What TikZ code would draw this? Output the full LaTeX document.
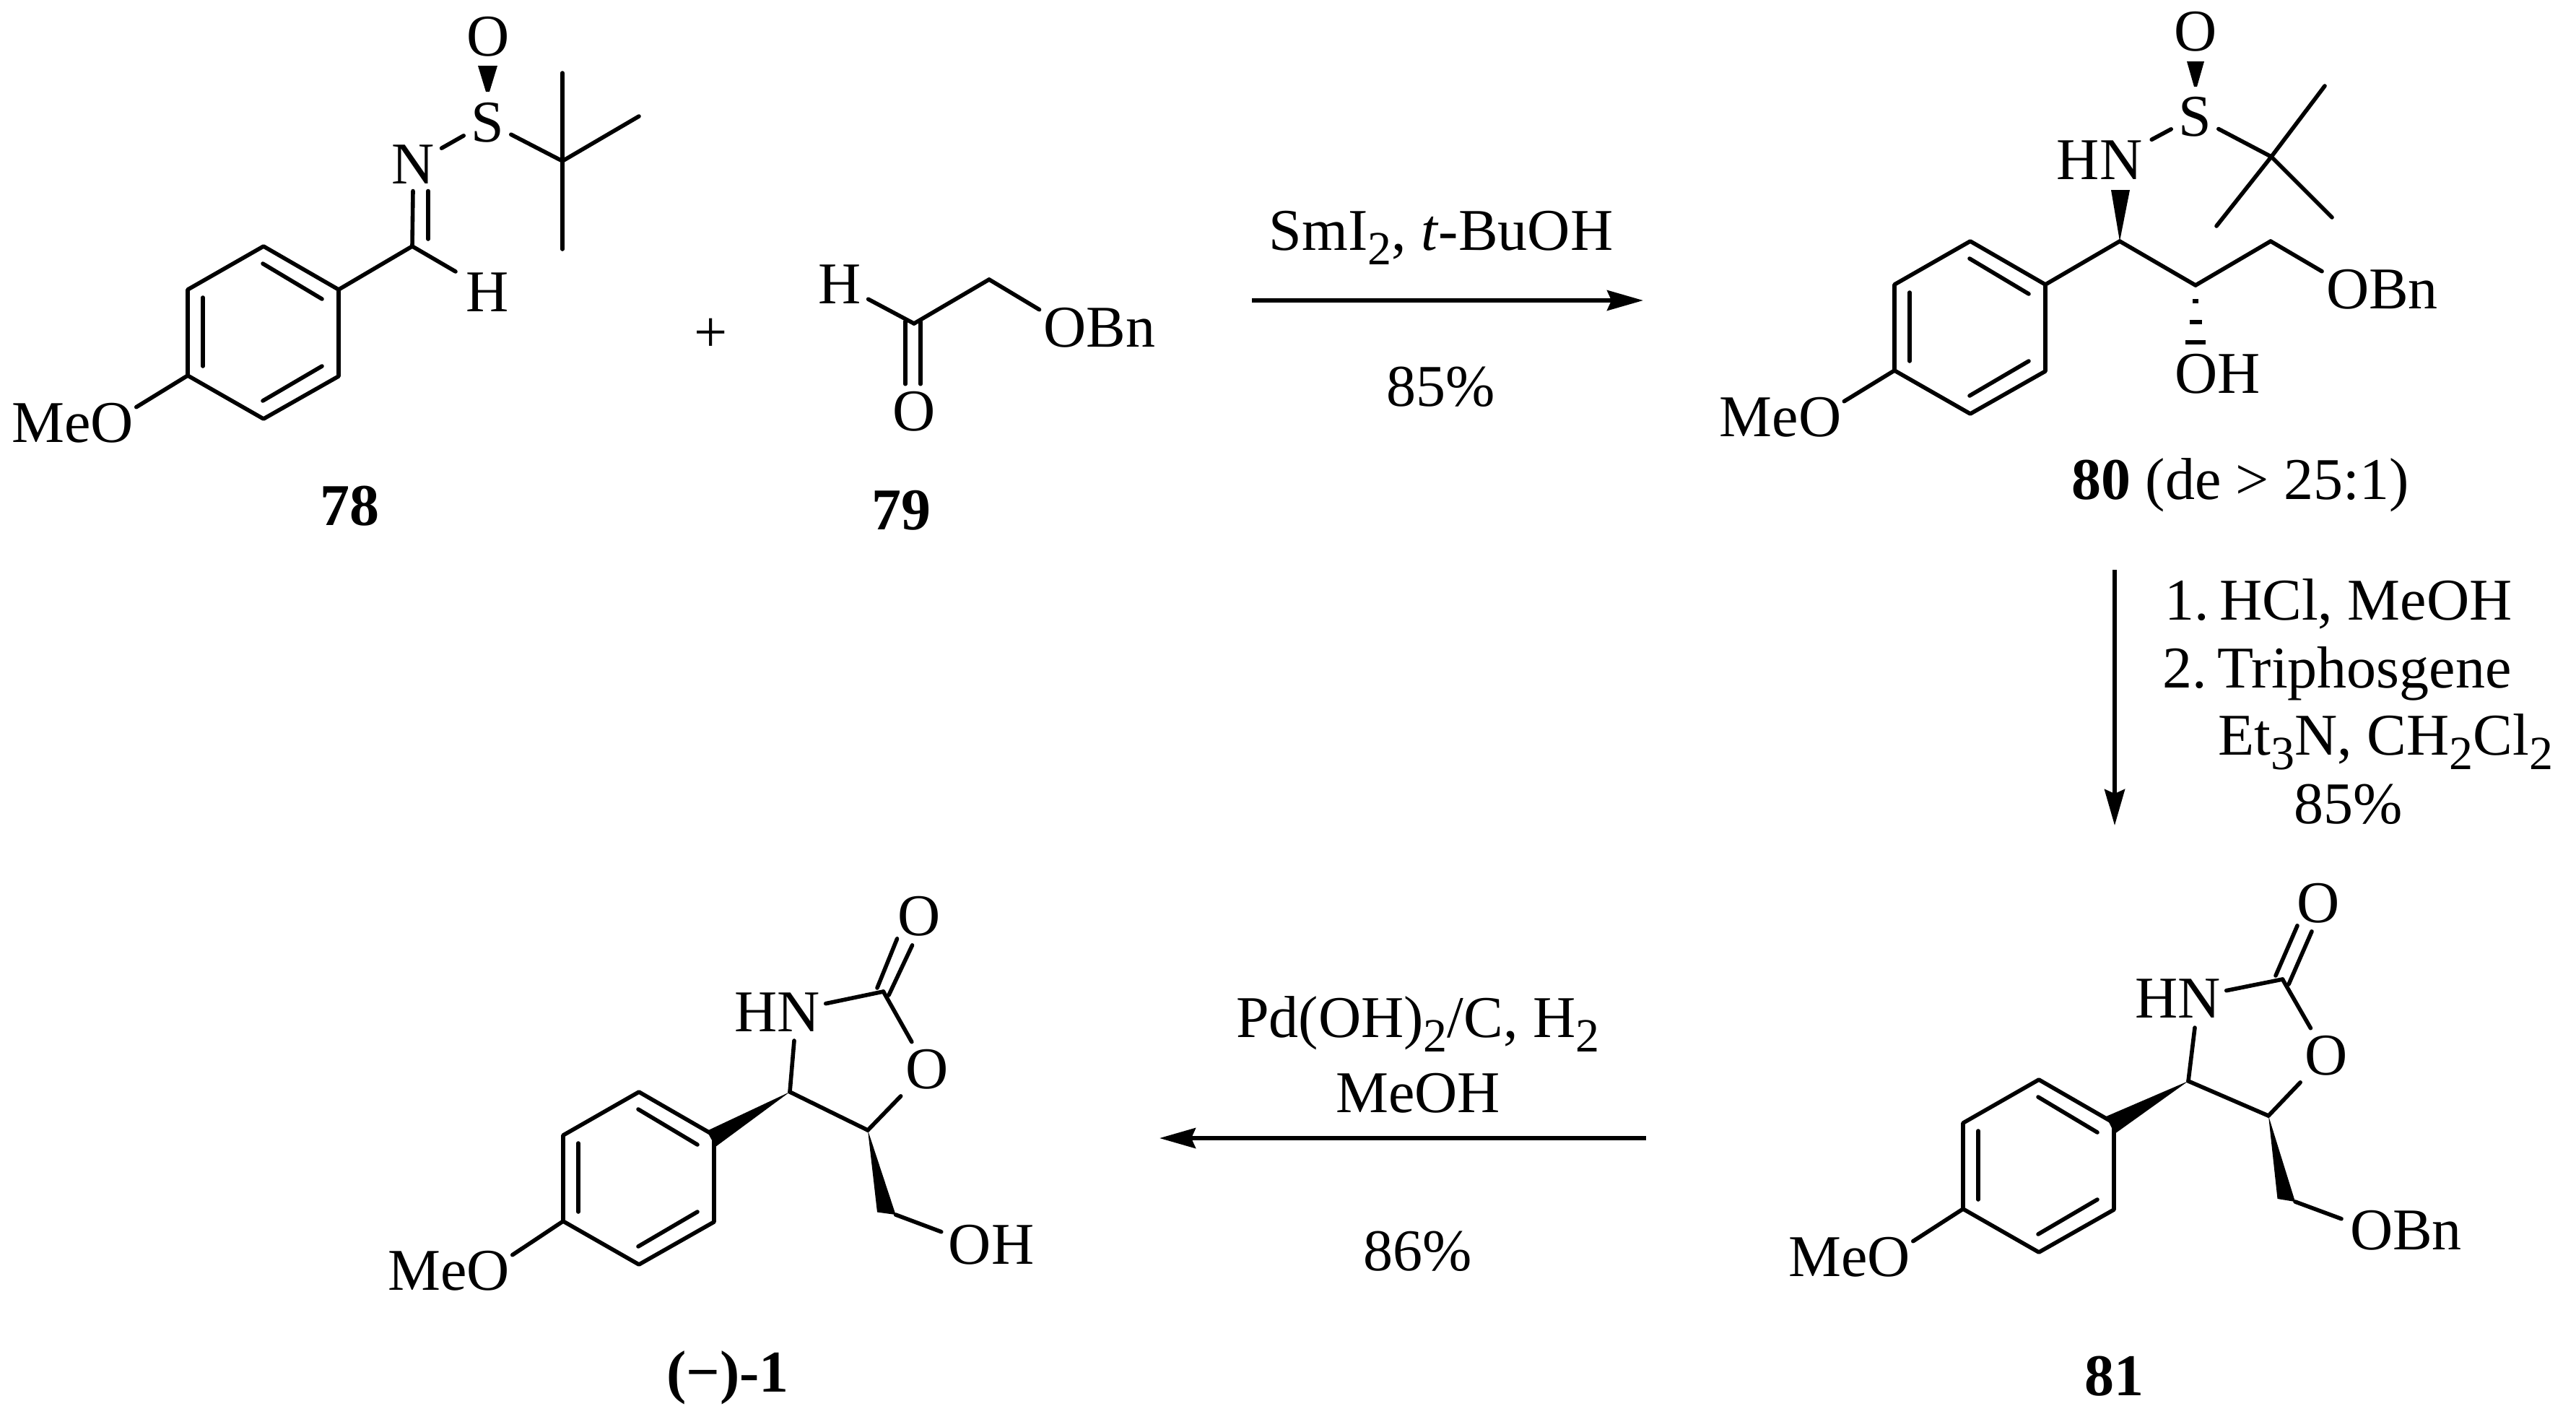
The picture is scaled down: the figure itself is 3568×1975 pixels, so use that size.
\documentclass[tikz,border=0pt]{standalone}
\usepackage{fontspec}
\setmainfont{Liberation Serif}
\usetikzlibrary{arrows.meta}
\newcommand{\chemfont}{\fontsize{20.5}{25}\selectfont}
\newcommand{\subs}[1]{\raisebox{-5pt}{\fontsize{16.5}{16.5}\selectfont #1}}
\tikzset{
  atom/.style={font=\chemfont, anchor=base, inner sep=2.5pt, outer sep=0pt},
  bond/.style={line width=1.4pt, line cap=round, line join=round},
  wedgebond/.style={fill=black},
  hashbar/.style={line width=1.4pt},
  rxn/.style={line width=1.4pt, -{Stealth[length=12.5pt,width=7pt,inset=1.5pt]}}
}
\newcommand{\arylring}[3]{
  \coordinate (#1t) at (#2,#3);
  \coordinate (#1ur) at (#2+104,#3+60);
  \coordinate (#1lr) at (#2+104,#3+180);
  \coordinate (#1b) at (#2,#3+239);
  \coordinate (#1ll) at (#2-105,#3+179);
  \coordinate (#1ul) at (#2-105,#3+60);
  \coordinate (#1ia) at (#2-1,#3+24);
  \coordinate (#1ib) at (#2+81,#3+73);
  \coordinate (#1ic) at (#2-84,#3+71);
  \coordinate (#1id) at (#2-84,#3+166);
  \coordinate (#1ie) at (#2+81,#3+166);
  \coordinate (#1if) at (#2-1,#3+214);
  \draw[bond] (#1t) -- (#1ur) -- (#1lr) -- (#1b) -- (#1ll) -- (#1ul) -- cycle;
  \path[bond]
  (#1ia) edge (#1ib)
  (#1ic) edge (#1id)
  (#1ie) edge (#1if);
}
\begin{document}
\begin{tikzpicture}[x=0.25pt, y=-0.25pt]
  \useasboundingbox (0,0) rectangle (3568,1975);

  \arylring{a}{365}{341}
  \coordinate (a1) at (571,341);
  \coordinate (a2) at (779,223);
  \coordinate (a3) at (779,101);
  \coordinate (a4) at (885,161);
  \coordinate (a5) at (779,345);
  \coordinate (a6) at (631,376);
  \coordinate (aw1) at (662,91);
  \coordinate (aw2) at (689,91);
  \coordinate (aw3) at (673,127);
  \coordinate (aw4) at (678,127);
  \node[atom] (aO) at (676,77) {O};
  \node[atom] (aS) at (675,196) {S};
  \node[atom] (aN) at (572,254.5) {N};
  \node[atom] (aH) at (675,431) {H};
  \node[atom] (aMeO) at (100.5,612) {MeO};
  \node[atom] (acmpd) at (484,727) {\textbf{78}};
  \fill[wedgebond] (aw1) -- (aw2) -- (aw4) -- (aw3) -- cycle;
  \path[bond]
  (aur) edge (a1)
  (a1) edge (a6)
       edge (aN.south)
  ([shift={(22,-10)}]a1) edge ([shift={(21,0)}]aN.south)
  (aN) edge (aS)
  (aS) edge (a2)
  (a2) edge (a3)
       edge (a4)
       edge (a5)
  (all) edge ([shift={(-6,16)}]aMeO.north east)
  ;

  \node[atom] (plus) at (985,487) {+};

  \coordinate (b1) at (1266,448);
  \coordinate (b2) at (1370,387);
  \node[atom] (bH) at (1163,420) {H};
  \node[atom] (bO) at (1266.5,596) {O};
  \node[atom] (bOBn) at (1523,480) {OBn};
  \node[atom] (bcmpd) at (1248,733) {\textbf{79}};
  \path[bond]
  (bH) edge (b1)
  (b1) edge (b2)
  (b2) edge ([shift={(4,13)}]bOBn.north west)
  ([shift={(-12,-3)}]b1) edge ([shift={(-12.5,0)}]bO.north)
  ([shift={(9,-3)}]b1) edge ([shift={(8.5,0)}]bO.north)
  ;

  \coordinate (r1a) at (1734,416);
  \coordinate (r1b) at (2276,416);
  \node[atom] (r1top) at (1996,346) {SmI\subs{2}, \textit{t}-BuOH};
  \node[atom] (r1bot) at (1996,562) {85\%};
  \path[rxn] (r1a) edge (r1b);

  \arylring{c}{2729}{334}
  \coordinate (c1) at (2936,334);
  \coordinate (c2) at (3041,395);
  \coordinate (c3) at (3145,334);
  \coordinate (c4) at (3146,217);
  \coordinate (c5) at (3220,119);
  \coordinate (c6) at (3070,313);
  \coordinate (c7) at (3230,301);
  \coordinate (cw1) at (2924,263);
  \coordinate (cw2) at (2950,263);
  \coordinate (cw3) at (3029,85);
  \coordinate (cw4) at (3053,85);
  \coordinate (cw5) at (3039,120);
  \coordinate (cw6) at (3043,120);
  \node[atom] (cO) at (3041,70) {O};
  \node[atom] (cS) at (3040,188) {S};
  \node[atom] (cHN) at (2908,248) {HN};
  \node[atom] (cOH) at (3071.5,544) {OH};
  \node[atom] (cOBn) at (3299.5,427) {OBn};
  \node[atom] (cMeO) at (2466,604) {MeO};
  \node[atom] (ccmpd) at (3103,691) {\textbf{80} (de > 25:1)};
  \fill[wedgebond] (cw1) -- (cw2) -- (c1) -- cycle;
  \fill[wedgebond] (cw3) -- (cw4) -- (cw6) -- (cw5) -- cycle;
  \path[bond]
  (cur) edge (c1)
  (c1) edge (c2)
  (c2) edge (c3)
  (c3) edge ([shift={(4,13)}]cOBn.north west)
  ([shift={(3,9)}]cHN.north east) edge (cS)
  (cS) edge (c4)
  (c4) edge (c5)
       edge (c6)
       edge (c7)
  (cll) edge ([shift={(-6,16)}]cMeO.north east)
  ;
  \path[hashbar]
  (3037,417) edge (3045,417)
  (3032.5,446) edge (3049.5,446)
  (3027,474) edge (3055,474)
  ;

  \coordinate (r2a) at (2929,789);
  \coordinate (r2b) at (2929,1143);
  \node[atom] (r2l1) at (3239,858) {1.\hspace{3.6pt}HCl, MeOH};
  \node[atom] (r2l2) at (3237,952) {2.\hspace{3.6pt}Triphosgene};
  \node[atom] (r2l3) at (3304.5,1045) {Et\subs{3}N, CH\subs{2}Cl\subs{2}};
  \node[atom] (r2l4) at (3252.5,1140) {85\%};
  \path[rxn] (r2a) edge (r2b);

  \arylring{d}{2824}{1495}
  \coordinate (d1) at (3031,1497);
  \coordinate (d2) at (3142,1545);
  \coordinate (d3) at (3161.5,1356);
  \coordinate (d4) at (3179,1664);
  \coordinate (dw1) at (2917,1546);
  \coordinate (dw2) at (2929,1570);
  \coordinate (dw3) at (3154.5,1660);
  \node[atom] (dO) at (3211,1277) {O};
  \node[atom] (dOr) at (3222,1488) {O};
  \node[atom] (dHN) at (3016.5,1409) {HN};
  \node[atom] (dOBn) at (3332.5,1730) {OBn};
  \node[atom] (dMeO) at (2561.5,1767) {MeO};
  \node[atom] (dcmpd) at (2928,1932) {\textbf{81}};
  \fill[wedgebond] (dw1) -- (dw2) -- (d1) -- cycle;
  \fill[wedgebond] (dw3) -- (d4) -- (d2) -- cycle;
  \path[bond]
  (d1) edge (d2)
  (d2) edge (dOr)
  (dOr) edge (d3)
  (d3) edge ([shift={(-2,-10.5)}]dHN.east)
  ([shift={(23.5,4)}]dHN.south) edge (d1)
  ([shift={(-9.5,-5)}]d3) edge ([shift={(-29,-6)}]dO.south)
  ([shift={(8.5,7)}]d3) edge ([shift={(-9,2)}]dO.south)
  (d4) edge ([shift={(-2,22)}]dOBn.north west)
  (dll) edge ([shift={(-6,16)}]dMeO.north east)
  ;

  \coordinate (r3a) at (2280,1576);
  \coordinate (r3b) at (1606,1576);
  \node[atom] (r3l1) at (1964,1436) {Pd(OH)\subs{2}/C, H\subs{2}};
  \node[atom] (r3l2) at (1964,1540) {MeOH};
  \node[atom] (r3l3) at (1964,1759) {86\%};
  \path[rxn] (r3a) edge (r3b);

  \arylring{e}{885}{1512}
  \coordinate (e1) at (1094,1512);
  \coordinate (e2) at (1202,1565);
  \coordinate (e3) at (1223.5,1373);
  \coordinate (e4) at (1240.6,1682);
  \coordinate (ew1) at (979,1566);
  \coordinate (ew2) at (991,1588);
  \coordinate (ew3) at (1215,1678.5);
  \node[atom] (eO) at (1272.6,1295) {O};
  \node[atom] (eOr) at (1284,1507) {O};
  \node[atom] (eHN) at (1077,1428) {HN};
  \node[atom] (eOH) at (1373,1750) {OH};
  \node[atom] (eMeO) at (621.5,1786) {MeO};
  \node[atom] (ecmpd) at (1008,1927) {\textbf{(−)-1}};
  \fill[wedgebond] (ew1) -- (ew2) -- (e1) -- cycle;
  \fill[wedgebond] (ew3) -- (e4) -- (e2) -- cycle;
  \path[bond]
  (e1) edge (e2)
  (e2) edge (eOr)
  (eOr) edge (e3)
  (e3) edge ([shift={(-2.5,-11.5)}]eHN.east)
  ([shift={(23,3)}]eHN.south) edge (e1)
  ([shift={(-8.5,-5)}]e3) edge ([shift={(-30,-6)}]eO.south)
  ([shift={(7.5,5)}]e3) edge ([shift={(-9,3)}]eO.south)
  (e4) edge ([shift={(0,20)}]eOH.north west)
  (ell) edge ([shift={(-6,16)}]eMeO.north east)
  ;
\end{tikzpicture}
\end{document}
